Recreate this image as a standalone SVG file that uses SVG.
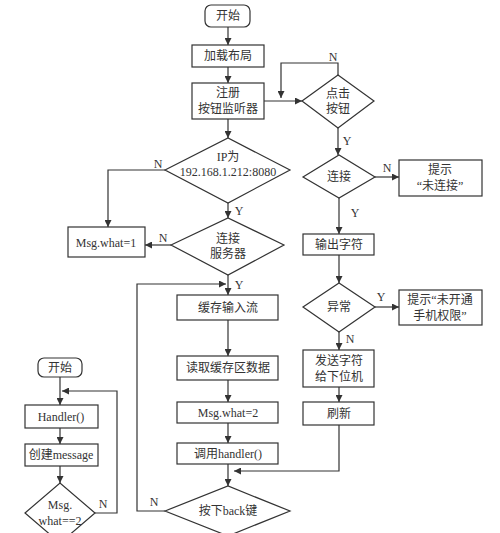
<svg xmlns="http://www.w3.org/2000/svg" width="500" height="533" viewBox="0 0 500 533">
<style>
.s{fill:#fff;stroke:#333;stroke-width:1.2}
.l{fill:none;stroke:#333;stroke-width:1.2}
.a{marker-end:url(#ah)}
text{font-family:"Liberation Serif","Noto Sans CJK SC",serif;font-size:12px;fill:#333;text-anchor:middle;dominant-baseline:central}
</style>
<defs>
<marker id="ah" viewBox="0 0 10 10" refX="10" refY="5" markerWidth="7" markerHeight="7" markerUnits="userSpaceOnUse" orient="auto">
<path d="M0,0L10,5L0,10z" fill="#333"/>
</marker>
</defs>
<rect width="500" height="533" fill="#fff"/>
<g id="connectors">
<path class="l a" d="M228,27V45"/>
<path class="l a" d="M228,67V83"/>
<path class="l a" d="M264,101H302"/>
<path class="l a" d="M338,75V63H281V98"/>
<path class="l a" d="M228,119V138"/>
<path class="l a" d="M338,128V155"/>
<path class="l a" d="M375,177H399"/>
<path class="l a" d="M339,198V234"/>
<path class="l a" d="M339,255V283"/>
<path class="l a" d="M375,307H399"/>
<path class="l a" d="M339,332V350"/>
<path class="l a" d="M339,387V402"/>
<path class="l a" d="M339,425V471H234"/>
<path class="l a" d="M165,170H108V227"/>
<path class="l a" d="M228,203V218"/>
<path class="l a" d="M171,245H145"/>
<path class="l a" d="M228,275V295"/>
<path class="l a" d="M165,511H137V284H226"/>
<path class="l a" d="M228,320V356"/>
<path class="l a" d="M228,380V402"/>
<path class="l a" d="M228,423V443"/>
<path class="l a" d="M228,464V486"/>
<path class="l a" d="M60,377V405"/>
<path class="l a" d="M60,428V444"/>
<path class="l a" d="M60,466V483"/>
<path class="l a" d="M95,513H117V391H62"/>
<text x="333" y="57">N</text>
<text x="347" y="141">Y</text>
<text x="387" y="168">N</text>
<text x="355" y="213">Y</text>
<text x="381" y="297">Y</text>
<text x="350" y="339">N</text>
<text x="158" y="164">N</text>
<text x="239" y="211">Y</text>
<text x="163" y="238">N</text>
<text x="239" y="285">Y</text>
<text x="154" y="502">N</text>
<text x="103" y="504">N</text>
</g>
<g id="start1"><rect class="s" x="205" y="5" width="45" height="22" rx="6"/><text x="228" y="16">开始</text></g>
<g id="loadLayout"><rect class="s" x="192" y="45" width="72" height="22"/><text x="228" y="56">加载布局</text></g>
<g id="register"><rect class="s" x="192" y="83" width="72" height="36"/><text x="228" y="93">注册</text><text x="228" y="109">按钮监听器</text></g>
<g id="clickBtn"><path class="s" d="M302,101L338,75L374,101L338,128Z"/><text x="338" y="94">点击</text><text x="338" y="109">按钮</text></g>
<g id="connected"><path class="s" d="M303,177L339,155L375,177L339,198Z"/><text x="339" y="177">连接</text></g>
<g id="notConnected"><rect class="s" x="399" y="160" width="83" height="36"/><text x="440" y="170">提示</text><text x="440" y="186">“未连接”</text></g>
<g id="output"><rect class="s" x="303" y="234" width="71" height="21"/><text x="339" y="245">输出字符</text></g>
<g id="exception"><path class="s" d="M303,307L339,283L375,307L339,332Z"/><text x="339" y="307">异常</text></g>
<g id="noPerm"><rect class="s" x="399" y="290" width="83" height="35"/><text x="440" y="300">提示“未开通</text><text x="440" y="316">手机权限”</text></g>
<g id="send"><rect class="s" x="303" y="350" width="71" height="37"/><text x="339" y="361">发送字符</text><text x="339" y="377">给下位机</text></g>
<g id="refresh"><rect class="s" x="303" y="402" width="71" height="23"/><text x="339" y="414">刷新</text></g>
<g id="ipCheck"><path class="s" d="M165,170L228,138L290,170L228,203Z"/><text x="228" y="157">IP为</text><text x="228" y="172">192.168.1.212:8080</text></g>
<g id="msg1"><rect class="s" x="68" y="227" width="77" height="30"/><text x="106" y="243">Msg.what=1</text></g>
<g id="connectServer"><path class="s" d="M171,245L228,218L284,245L228,275Z"/><text x="228" y="239">连接</text><text x="228" y="254">服务器</text></g>
<g id="bufferIn"><rect class="s" x="177" y="295" width="101" height="25"/><text x="228" y="308">缓存输入流</text></g>
<g id="readBuf"><rect class="s" x="177" y="356" width="101" height="24"/><text x="228" y="368">读取缓存区数据</text></g>
<g id="msg2"><rect class="s" x="177" y="402" width="101" height="21"/><text x="228" y="413">Msg.what=2</text></g>
<g id="callHandler"><rect class="s" x="177" y="443" width="101" height="21"/><text x="228" y="454">调用handler()</text></g>
<g id="backKey"><path class="s" d="M165,511L228,486L290,511L228,536Z"/><text x="228" y="511">按下back键</text></g>
<g id="start2"><rect class="s" x="38" y="358" width="44" height="19" rx="6"/><text x="60" y="368">开始</text></g>
<g id="handler"><rect class="s" x="25" y="405" width="73" height="23"/><text x="61" y="417">Handler()</text></g>
<g id="createMsg"><rect class="s" x="25" y="444" width="73" height="22"/><text x="61" y="455">创建message</text></g>
<g id="msgCheck"><path class="s" d="M25,513L60,483L95,513L60,543Z"/><text x="60" y="505">Msg.</text><text x="60" y="521">what==2</text></g>
</svg>
